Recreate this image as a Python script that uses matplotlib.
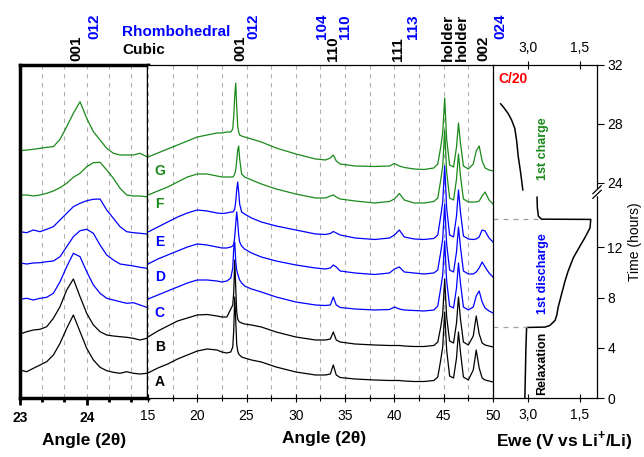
import numpy as np
import matplotlib
matplotlib.use('Agg')
import matplotlib.pyplot as plt
from matplotlib import transforms
from matplotlib.ticker import MultipleLocator, FixedLocator, NullLocator, FuncFormatter

plt.rcParams['font.family'] = ['Liberation Sans', 'DejaVu Sans']
plt.rcParams['mathtext.fontset'] = 'custom'
plt.rcParams['mathtext.rm'] = 'Liberation Sans'
plt.rcParams['mathtext.bf'] = 'Liberation Sans:bold'

# ---------------- in situ XRD patterns (2theta 15-50), counts above each baseline
scans = ['A', 'B', 'C', 'D', 'E', 'F', 'G']
scan_colors = ['black', 'black', '#0000ff', '#0000ff', '#0000ff', '#1a8a1a', '#1a8a1a']
offsets = [16, 51, 85, 121, 156, 194, 227]

two_theta = [15, 16, 17, 18, 19, 20, 21, 22, 22.5, 23,
             23.4, 23.6, 23.7, 23.8, 23.9, 24.0, 24.1, 24.2, 24.3, 24.5, 24.8,
             25.5, 26.5, 28, 30, 32,
             33, 33.5, 33.8, 34.1, 34.5,
             36, 38,
             39.5, 40, 40.5, 41,
             42, 43, 44,
             44.4, 44.7, 44.9, 45.1, 45.3, 45.6,
             46.0, 46.3, 46.5, 46.7, 47.0,
             47.5,
             48.0, 48.3, 48.6, 48.9, 49.2, 49.6, 50]

xrd_A = [9, 14, 18, 23, 27, 31, 33, 32, 30, 29,
         30, 35, 52, 85, 62, 38, 31, 28, 27, 25, 24,
         22, 20, 15, 10, 7,
         7, 8, 17, 7, 4.5,
         3, 2,
         1.5, 1.5, 1.5, 1,
         0.5, 0.5, 1.5,
         5, 22, 35, 70, 32, 6,
         4, 24, 50, 30, 5,
         2,
         12, 32, 14, 4, 2, 1, 0]
xrd_B = [10, 16, 21, 26, 29, 32, 32.5, 31, 30, 30,
         38, 42, 55, 87, 60, 35, 28, 26, 25, 24, 23,
         22, 20, 15, 10, 7,
         7, 8, 15, 7, 5,
         3, 2,
         1.5, 1.5, 1.5, 1,
         0.5, 0.5, 1.5,
         5, 20, 33, 68, 30, 6,
         4, 24, 50, 28, 5,
         2,
         11, 31, 13, 4, 2, 1, 0]
xrd_C = [14, 18, 22, 26, 30, 33, 33, 32, 31, 32,
         35, 45, 65, 71, 52, 43, 39, 36, 33, 30, 27,
         24, 21, 16, 11, 8,
         7.5, 8, 16, 8, 5.5,
         4, 3,
         3.5, 6, 4, 3,
         2.5, 2, 3,
         7, 25, 38, 72, 32, 7,
         5, 25, 50, 30, 6,
         3,
         6, 17, 22, 11, 5, 2, 0]
xrd_D = [13, 18, 22, 26, 30, 33, 32, 30, 29, 29,
         30, 31, 33, 40, 53, 65, 55, 42, 35, 31, 28,
         24, 20, 16, 12, 9,
         8, 9, 12, 10, 6,
         4, 2.5,
         4, 8, 10, 5,
         4, 3, 4,
         7, 25, 38, 73, 33, 7,
         5, 25, 50, 30, 6,
         3,
         3, 5, 9, 15, 10, 4, 0]
xrd_E = [10, 15, 20, 25, 29, 32, 31, 29, 28.5, 29,
         30, 30, 31, 33, 40, 52, 60, 50, 38, 30, 28,
         24, 20, 16, 12, 8,
         7.5, 8.5, 10.5, 9, 7,
         4, 2.5,
         4, 7, 12, 5,
         3, 2.5, 3.5,
         7, 26, 40, 76, 34, 7,
         5, 26, 52, 30, 6,
         3,
         2.5, 3, 5, 12, 11, 4, 0]
xrd_F = [9, 13, 17, 22, 27, 30, 30, 28, 27, 27,
         27, 27, 28, 30, 34, 43, 54, 58, 45, 30, 27,
         24, 20, 15, 10, 6,
         6, 8, 9, 7, 5,
         3, 1,
         2.5, 5, 10.5, 4,
         1, 1, 2.5,
         6, 24, 38, 74, 32, 6,
         4, 25, 50, 28, 5,
         2,
         2, 2, 3, 8, 12, 4, 0]
xrd_G = [14, 18, 22, 26, 30, 34, 36, 38, 38, 39,
         39, 42, 55, 75, 88, 65, 45, 39, 36, 35, 34,
         32, 29, 23, 17, 12,
         11, 13, 16, 10, 7,
         5, 4.5,
         5, 7.5, 5, 3.5,
         2, 1.5, 3,
         7, 24, 38, 73, 32, 6,
         4, 24, 48, 28, 5,
         2,
         7, 20, 25, 10, 3, 1, 0]
xrd = [xrd_A, xrd_B, xrd_C, xrd_D, xrd_E, xrd_F, xrd_G]

# zoom on the 001 / 012 reflection, 23-25 deg
zoom_theta = [23.0, 23.1, 23.2, 23.3, 23.4, 23.5, 23.6, 23.7, 23.8, 23.9,
              24.0, 24.1, 24.2, 24.3, 24.4, 24.5, 24.6, 24.7, 24.8, 24.9]
zoom_A = [12, 10.3, 13.7, 17, 20.3, 27, 38.7, 53.7, 67, 50.3, 33.7, 22, 14.7, 11.3, 9.7, 8.7, 10.3, 8.7, 8, 8.7]
zoom_B = [13, 15.3, 17, 17.7, 20.3, 28.7, 40.3, 57, 68, 50.3, 33.7, 22, 15.3, 12, 11, 10.3, 9.7, 8.7, 7, 8.7]
zoom_C = [13.7, 14.7, 13, 14.7, 15.7, 19.7, 31.3, 46.3, 59.7, 56.3, 41.3, 28, 19.7, 14.7, 13, 11.3, 9.7, 10.3, 8, 5.7]
zoom_D = [14, 13, 14, 14.3, 15.3, 16, 20.3, 30.3, 40.3, 46.3, 47.7, 43.7, 32, 22, 17, 13, 12, 11, 9.7, 8.7]
zoom_E = [10.3, 9.3, 12, 10.3, 12.7, 15.3, 22, 28.7, 35.3, 38.7, 41.3, 42.7, 43, 32, 23.7, 15.3, 10.3, 9.3, 8.7, 8]
zoom_F = [9, 9, 8, 9, 10.7, 13, 16.3, 20.7, 26.7, 30.7, 37.3, 41.3, 41.7, 34, 25.7, 15.7, 9, 8, 8, 7.3]
zoom_G = [20.3, 21, 21.7, 22.7, 23.7, 24.3, 31.7, 44.3, 57.7, 69.3, 52.7, 39.3, 31, 22.7, 17.7, 16, 16, 16, 17.7, 14.3]
zoom = [zoom_A, zoom_B, zoom_C, zoom_D, zoom_E, zoom_F, zoom_G]

# peak assignments: (2theta, label, phase)
cubic_peaks = [(24.33, '001'), (33.8, '110'), (40.35, '111'), (45.45, 'holder'), (46.85, 'holder'), (49.0, '002')]
rhombo_peaks = [(25.65, '012'), (32.7, '104'), (35.0, '110'), (41.9, '113'), (50.7, '024')]
zoom_cubic = [(23.84, '001')]
zoom_rhombo = [(24.11, '012')]

# ---------------- electrochemistry at C/20
dis_time = [0.0, 2.0, 4.0, 5.62, 5.65, 5.78, 6.18, 6.6, 7.23, 8.29, 9.34, 10.13, 11.19,
            12.11, 12.77, 13.56, 14.23, 14.25, 14.49, 15.15, 16.0]
dis_ewe = [3.08, 3.065, 3.05, 3.03, 2.50, 2.36, 2.21, 2.16, 2.12, 2.02, 1.92, 1.83, 1.68,
           1.49, 1.35, 1.20, 1.18, 2.60, 2.69, 2.72, 2.73]
chg_time = [23.51, 24.64, 25.76, 26.89, 27.68, 28.24, 28.69, 29.14, 29.36]
chg_ewe = [3.14, 3.20, 3.27, 3.32, 3.37, 3.46, 3.56, 3.70, 3.78]
step_time = [5.62, 14.23]
step_ewe = [3.03, 2.60]
time_ticks = [0, 4, 8, 12, 24, 28, 32]


# broken time axis: 0-16.3 h and 23.3-32 h
LO, HI = 16.3, 23.3
R_LO, R_HI = 12.63, 14.8
Y_LO = LO * R_LO
Y_HI = Y_LO + 0.5


def t_fwd(t):
    t = np.asarray(t, dtype=float)
    return np.where(t <= LO, t * R_LO,
                    np.where(t >= HI, Y_HI + (t - HI) * R_HI,
                             Y_LO + (t - LO) * 0.5 / (HI - LO)))


def t_inv(y):
    y = np.asarray(y, dtype=float)
    return np.where(y <= Y_LO, y / R_LO,
                    np.where(y >= Y_HI, HI + (y - Y_HI) / R_HI,
                             LO + (y - Y_LO) * (HI - LO) / 0.5))


fig = plt.figure(figsize=(6.44, 4.57), dpi=100)
fig.patch.set_facecolor('white')

bottom, height = 0.1291, 0.7287
ax_in = fig.add_axes([0.0311, bottom, 0.1988, height])
ax = fig.add_axes([0.2298, bottom, 0.5357, height])
ax_r = fig.add_axes([0.7655, bottom, 0.1615, height])

grid_kw = dict(color='#b0b0b0', linestyle=(0, (4, 4)), linewidth=0.8)

# ---- main patterns
for name, col, off, y in zip(scans, scan_colors, offsets, xrd):
    ax.plot(two_theta, np.array(y) + off, color=col, lw=0.9)
    ax.text(16.2, off, name, color=col, fontsize=10, fontweight='bold', ha='center', va='center')
ax.set_xlim(15, 50)
ax.set_ylim(0, 333)
ax.set_yticks([])
ax.xaxis.set_major_locator(MultipleLocator(5))
ax.xaxis.set_minor_locator(MultipleLocator(2.5))
ax.grid(axis='x', which='both', **grid_kw)
ax.tick_params(axis='x', which='major', direction='inout', length=6, width=0.8, labelsize=10, pad=5)
ax.tick_params(axis='x', which='minor', direction='inout', length=5, width=0.8)
ax.spines['left'].set_visible(False)
ax.spines['right'].set_visible(False)
for s in ('top', 'bottom'):
    ax.spines[s].set_linewidth(0.9)

trans = transforms.blended_transform_factory(ax.transData, ax.transAxes)
for x, lab in cubic_peaks:
    ax.text(x, 1.012, lab, transform=trans, rotation=90, ha='center', va='bottom',
            fontsize=11, fontweight='bold', color='black', clip_on=False)
for x, lab in rhombo_peaks:
    ax.text(x, 1.078, lab, transform=trans, rotation=90, ha='center', va='bottom',
            fontsize=11, fontweight='bold', color='#0000ff', clip_on=False)

# ---- zoomed 001 region
for col, off, y in zip(scan_colors, offsets, zoom):
    ax_in.plot(zoom_theta, np.array(y) + off, color=col, lw=0.9)
ax_in.set_xlim(23, 24.92)
ax_in.set_ylim(0, 333)
ax_in.set_yticks([])
ax_in.xaxis.set_major_locator(FixedLocator([23, 24]))
ax_in.xaxis.set_minor_locator(FixedLocator([23 + 1 / 3, 23 + 2 / 3, 24 + 1 / 3, 24 + 2 / 3]))
ax_in.grid(axis='x', which='both', **grid_kw)
ax_in.tick_params(axis='x', which='major', direction='out', length=5, width=2, labelsize=10, pad=4)
ax_in.tick_params(axis='x', which='minor', direction='out', length=3, width=2)
for lab in ax_in.get_xticklabels():
    lab.set_fontweight('bold')
for s in ax_in.spines.values():
    s.set_linewidth(2.5)
trans_in = transforms.blended_transform_factory(ax_in.transData, ax_in.transAxes)
for x, lab in zoom_cubic:
    ax_in.text(x, 1.012, lab, transform=trans_in, rotation=90, ha='center', va='bottom',
               fontsize=11, fontweight='bold', color='black', clip_on=False)
for x, lab in zoom_rhombo:
    ax_in.text(x, 1.078, lab, transform=trans_in, rotation=90, ha='center', va='bottom',
               fontsize=11, fontweight='bold', color='#0000ff', clip_on=False)

fig.text(0.1894, 0.930, 'Rhombohedral', color='#0000ff', fontsize=11, fontweight='bold', va='center')
fig.text(0.1894, 0.8906, 'Cubic', color='black', fontsize=11, fontweight='bold', va='center')

# ---- potential vs time
ax_r.set_yscale('function', functions=(t_fwd, t_inv))
ax_r.plot(dis_ewe, dis_time, color='black', lw=1.1)
ax_r.plot(chg_ewe, chg_time, color='black', lw=1.1)
ax_r.hlines(step_time, 4.0, step_ewe, colors='#a0a0a0', linestyles=(0, (4, 4)), lw=0.9)
ax_r.set_xlim(4.0, 1.0)
ax_r.set_ylim(0, 32)
ax_r.set_xticks([3.0, 1.5])
ax_r.xaxis.set_major_formatter(FuncFormatter(lambda v, p: f'{v:.1f}'.replace('.', ',')))
ax_r.tick_params(axis='x', top=True, labeltop=True, direction='inout', length=6, width=0.8,
                 labelsize=10, pad=4)
ax_r.yaxis.tick_right()
ax_r.yaxis.set_major_locator(FixedLocator(time_ticks))
ax_r.yaxis.set_minor_locator(NullLocator())
ax_r.yaxis.set_major_formatter(FuncFormatter(lambda v, p: f'{v:g}'))
ax_r.tick_params(axis='y', direction='out', length=5, width=0.8, labelsize=10, pad=2.5)
for s in ax_r.spines.values():
    s.set_linewidth(0.9)

# axis break marks on the time axis
yb = 0.6186
ax_r.plot([1.0, 1.0], [yb - 0.006, yb + 0.006], color='white', lw=2.5,
          transform=ax_r.transAxes, clip_on=False, zorder=5)
for dy in (-0.007, 0.007):
    ax_r.plot([0.96, 1.04], [yb + dy - 0.012, yb + dy + 0.012], color='black', lw=0.9,
              transform=ax_r.transAxes, clip_on=False, zorder=6)

ax_r.text(0.048, 0.958, 'C/20', color='#ff0000', fontsize=10, fontweight='bold',
          transform=ax_r.transAxes, ha='left', va='center')
ax_r.text(0.48, 0.749, '1st charge', color='#1a8a1a', fontsize=9, fontweight='bold',
          rotation=90, transform=ax_r.transAxes, ha='center', va='center')
ax_r.text(0.48, 0.374, '1st discharge', color='#0000ff', fontsize=9, fontweight='bold',
          rotation=90, transform=ax_r.transAxes, ha='center', va='center')
ax_r.text(0.468, 0.105, 'Relaxation', color='black', fontsize=9, fontweight='bold',
          rotation=90, transform=ax_r.transAxes, ha='center', va='center')

fig.text(635 / 644, 1 - 242 / 457, 'Time (hours)', rotation=90, fontsize=10, ha='center', va='center')
fig.text(84 / 644, 1 - 440 / 457, 'Angle (2θ)', fontsize=12.5, fontweight='bold', ha='center', va='center')
fig.text(324 / 644, 1 - 438 / 457, 'Angle (2θ)', fontsize=12.5, fontweight='bold', ha='center', va='center')
fig.text(564 / 644, 1 - 440 / 457, r'Ewe (V vs Li$^{\mathbf{+}}$/Li)', fontsize=12.5,
         fontweight='bold', ha='center', va='center')

fig.savefig('out.png', dpi=100)
